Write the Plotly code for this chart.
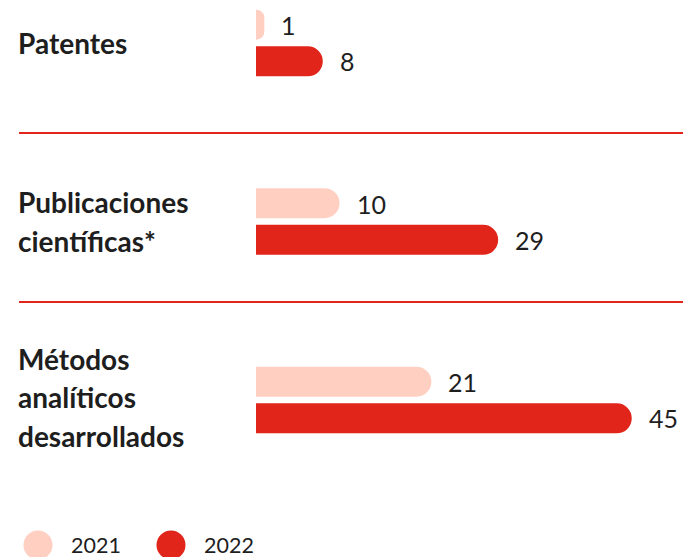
import plotly.graph_objects as go

# datos
categorias = ["Patentes", "Publicaciones<br>científicas*", "Métodos<br>analíticos<br>desarrollados"]
valores_2021 = [1, 10, 21]
valores_2022 = [8, 29, 45]
anios = ["2021", "2022"]

COLOR_2021 = "#FFCFC2"
COLOR_2022 = "#E1251B"
TEXTO = "#1E1E1E"
FONT = "Lato, 'Open Sans', sans-serif"

W, H = 683, 557

fig = go.Figure()

for nombre, vals, color in [(anios[0], valores_2021, COLOR_2021), (anios[1], valores_2022, COLOR_2022)]:
    fig.add_trace(go.Bar(
        name=nombre,
        y=categorias,
        x=vals,
        orientation="h",
        marker=dict(color=color, line=dict(width=0)),
        showlegend=False,
        hoverinfo="skip",
    ))

# etiquetas de valor
anotaciones = []
for vals, shift in [(valores_2021, -18), (valores_2022, 18)]:
    for cat, v in zip(categorias, vals):
        anotaciones.append(dict(
            x=v, y=cat, xref="x", yref="y", text=str(v), showarrow=False,
            xanchor="left", yanchor="middle", xshift=15, yshift=-shift,
            font=dict(size=25, color=TEXTO, family=FONT),
        ))

# etiquetas de categoría (una anotación por línea para controlar el interlineado)
for cat in categorias:
    lineas = cat.split("<br>")
    n = len(lineas)
    ajuste = 3 if n > 2 else 0
    for i, linea in enumerate(lineas):
        anotaciones.append(dict(
            x=16 / W, y=cat, xref="paper", yref="y", text=f"<b>{linea}</b>",
            showarrow=False, xanchor="left", yanchor="middle",
            yshift=-(i - (n - 1) / 2) * 38.5 + ajuste,
            font=dict(size=28, color=TEXTO, family=FONT),
        ))

# leyenda manual
for nombre, color, cx in [(anios[0], COLOR_2021, 38), (anios[1], COLOR_2022, 171)]:
    anotaciones.append(dict(
        x=(cx + 31) / W, y=1 - 545 / H, xref="paper", yref="paper", text=nombre,
        showarrow=False, xanchor="left", yanchor="middle",
        font=dict(size=21.5, color=TEXTO, family=FONT),
    ))

formas = [
    dict(type="line", xref="paper", yref="paper", x0=19 / W, x1=1,
         y0=1 - 133 / H, y1=1 - 133 / H, line=dict(color=COLOR_2022, width=2)),
    dict(type="line", xref="paper", yref="paper", x0=19 / W, x1=1,
         y0=1 - 302 / H, y1=1 - 302 / H, line=dict(color=COLOR_2022, width=2)),
]
for color, cx in [(COLOR_2021, 38), (COLOR_2022, 171)]:
    r = 14.5
    formas.append(dict(
        type="circle", xref="paper", yref="paper",
        x0=(cx - r) / W, x1=(cx + r) / W, y0=1 - (545 + r) / H, y1=1 - (545 - r) / H,
        fillcolor=color, line=dict(width=0),
    ))

# escala: 0 en el píxel 256, ~8.35 px por unidad
px_unidad = 8.35
px_cat = 178.5
y_top = -43 / px_cat

fig.update_layout(
    width=W, height=H,
    paper_bgcolor="white", plot_bgcolor="white",
    margin=dict(l=0, r=0, t=0, b=0),
    barmode="group",
    bargap=0.59,
    bargroupgap=0.18,
    barcornerradius=15,
    xaxis=dict(range=[-256 / px_unidad, (W - 256) / px_unidad], visible=False, fixedrange=True),
    yaxis=dict(range=[y_top + H / px_cat, y_top], visible=False, fixedrange=True),
    annotations=anotaciones,
    shapes=formas,
    font=dict(family=FONT, color=TEXTO),
)

fig.write_html("out.html", config=dict(displayModeBar=False),
               post_script="document.body.style.margin='0';document.body.style.overflow='hidden';")
